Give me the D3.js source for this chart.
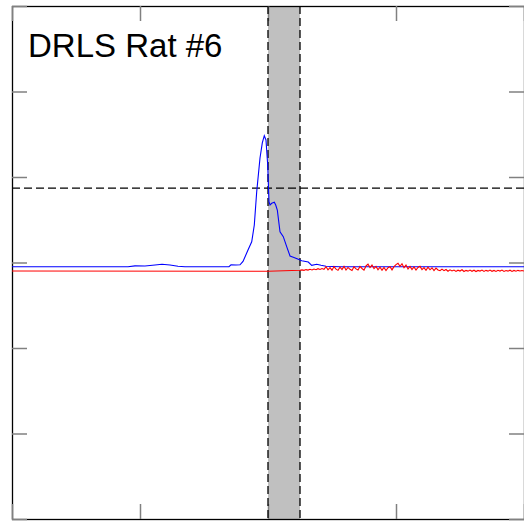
<!DOCTYPE html>
<html>
<head>
<meta charset="utf-8">
<script src="https://cdn.jsdelivr.net/npm/d3@7"></script>
<style>
  html, body { margin: 0; padding: 0; background: #fff; }
  svg { display: block; }
</style>
</head>
<body>
<svg id="chart" width="524" height="523"></svg>
<script>
// ---- data ----
const title = "DRLS Rat #6";
const xTickValues = [-8, -4, 0, 4, 8];
const yTickValues = [-3, -2, -1, 0, 1, 2, 3];
const bandRange = [0, 1];
const thresholdValue = 0.871;

const blueX = [-8, -4.375, -4.156, -3.844, -3.531, -3.313, -3.063, -2.813, -2.594, -1.219, -1.156, -1.0, -0.875,
  -0.781, -0.625, -0.509, -0.428, -0.353, -0.25, -0.178, -0.116, -0.063, -0.009, 0.031, 0.063, 0.116, 0.197,
  0.241, 0.291, 0.375, 0.478, 0.584, 0.688, 0.791, 0.947, 1.053, 1.259, 1.366, 1.522, 1.656, 1.813, 2.25, 8];
const blueY = [-0.049, -0.049, -0.039, -0.041, -0.029, -0.020, -0.029, -0.044, -0.049, -0.049, -0.027, -0.029, -0.027,
  0.012, 0.146, 0.243, 0.439, 0.828, 1.222, 1.398, 1.483, 1.433, 1.140, 0.711, 0.673, 0.692, 0.704,
  0.673, 0.614, 0.360, 0.302, 0.185, 0.076, 0.061, 0.037, 0.021, 0.006, -0.033, -0.020, -0.032, -0.044, -0.050, -0.050];

const redHeadX = [-8, 0, 0.5];
const redHeadY = [-0.099, -0.103, -0.097];
const redNoiseStart = 1.0;
const redNoiseStep = 0.0625;
const redNoiseY = [
  -0.091, -0.086, -0.092, -0.083, -0.089, -0.080, -0.087, -0.076, -0.085, -0.072, -0.082, -0.070, -0.080,
  -0.050, -0.085, -0.060, -0.090, -0.048, -0.078, -0.092, -0.055, -0.082, -0.045, -0.088, -0.058, -0.080, -0.094, -0.050, -0.075, -0.088, -0.046, -0.070, -0.090,
  -0.040, -0.020, -0.060, -0.030, -0.072, -0.045, -0.085, -0.055,
  -0.090, -0.058, -0.095, -0.062, -0.050, -0.086, -0.048,
  -0.025, -0.008, -0.045, -0.015, -0.060, -0.030, -0.075, -0.045,
  -0.082, -0.052, -0.088, -0.058, -0.045, -0.084, -0.060, -0.092, -0.055, -0.085, -0.062, -0.095, -0.066, -0.088, -0.096,
  -0.078, -0.096, -0.082, -0.102, -0.086, -0.099, -0.088, -0.104, -0.090, -0.100, -0.085, -0.105, -0.092, -0.101, -0.088,
  -0.103, -0.090, -0.106, -0.093, -0.100, -0.089, -0.104, -0.092, -0.101, -0.088, -0.103, -0.093, -0.105, -0.091, -0.100,
  -0.089, -0.104, -0.094, -0.101, -0.090, -0.105, -0.093, -0.102, -0.092, -0.100, -0.094, -0.099
];

// ---- build ----
const svg = d3.select("#chart");
const x = d3.scaleLinear().domain([-8, 8]).range([12, 524]);
const y = d3.scaleLinear().domain([-3, 3]).range([519, 6]);

const blue = blueX.map((v, i) => [v, blueY[i]]);
const red = redHeadX.map((v, i) => [v, redHeadY[i]])
  .concat(redNoiseY.map((v, i) => [redNoiseStart + i * redNoiseStep, v]));

// band
svg.append("rect")
  .attr("x", x(bandRange[0])).attr("y", y(3))
  .attr("width", x(bandRange[1]) - x(bandRange[0]))
  .attr("height", y(-3) - y(3))
  .attr("fill", "#c0c0c0");

// frame
svg.append("rect")
  .attr("x", x(-8) + 0.5).attr("y", y(3) + 0.5)
  .attr("width", x(8) - x(-8)).attr("height", y(-3) - y(3))
  .attr("fill", "none").attr("stroke", "#000").attr("stroke-width", 1.3);

// ticks
function styleAxis(g) {
  g.select(".domain").remove();
  g.selectAll(".tick line").attr("stroke", "#808080").attr("stroke-width", 1.5);
  g.selectAll(".tick text").remove();
}
svg.append("g").attr("transform", `translate(${x(-8)},0)`)
  .call(d3.axisLeft(y).tickValues(yTickValues).tickSize(-15).tickFormat("")).call(styleAxis);
svg.append("g").attr("transform", `translate(${x(8)},0)`)
  .call(d3.axisRight(y).tickValues(yTickValues).tickSize(-15).tickFormat("")).call(styleAxis);
svg.append("g").attr("transform", `translate(0,${y(3)})`)
  .call(d3.axisTop(x).tickValues(xTickValues).tickSize(-15).tickFormat("")).call(styleAxis);
svg.append("g").attr("transform", `translate(0,${y(-3)})`)
  .call(d3.axisBottom(x).tickValues(xTickValues).tickSize(-15).tickFormat("")).call(styleAxis);

// dashed band edges
bandRange.forEach(b => {
  svg.append("line")
    .attr("x1", x(b)).attr("x2", x(b)).attr("y1", y(3)).attr("y2", y(-3))
    .attr("stroke", "#000").attr("stroke-width", 1.3).attr("stroke-dasharray", "8,4");
});
// threshold dashed line
svg.append("line")
  .attr("x1", x(-8)).attr("x2", x(8)).attr("y1", y(thresholdValue)).attr("y2", y(thresholdValue))
  .attr("stroke", "#000").attr("stroke-width", 1.3).attr("stroke-dasharray", "8,4");

const line = d3.line().x(d => x(d[0])).y(d => y(d[1]));
svg.append("path").datum(blue).attr("d", line)
  .attr("fill", "none").attr("stroke", "#0000ff").attr("stroke-width", 1.1);
svg.append("path").datum(red).attr("d", line)
  .attr("fill", "none").attr("stroke", "#ff0000").attr("stroke-width", 1.1);

svg.append("text")
  .attr("x", 28).attr("y", 57)
  .attr("font-family", "'Liberation Sans', Arial, sans-serif")
  .attr("font-size", 33)
  .attr("fill", "#000")
  .text(title);
</script>
</body>
</html>
